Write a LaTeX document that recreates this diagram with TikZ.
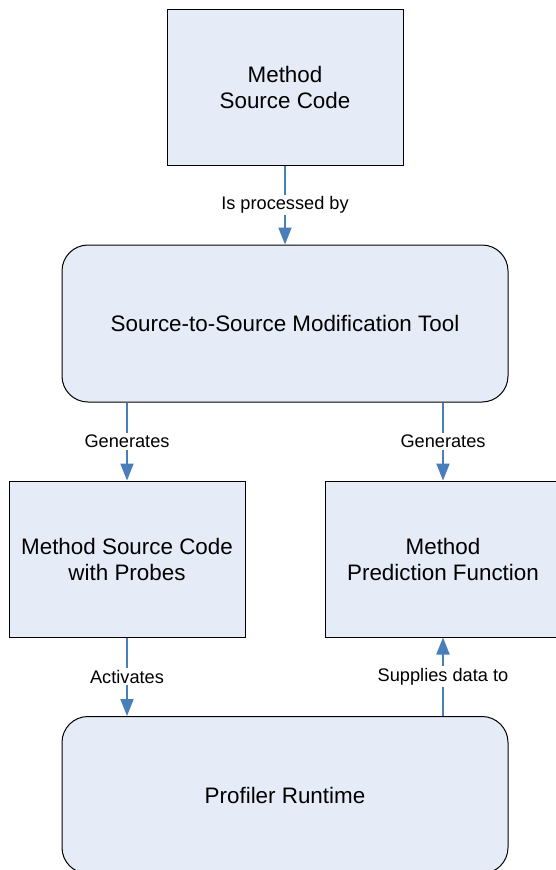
\documentclass[tikz,border=0pt]{standalone}
\usepackage{fontspec}
\setmainfont{Liberation Sans}
\usetikzlibrary{arrows.meta}

\definecolor{boxfill}{HTML}{E6ECF7}
\definecolor{flowblue}{HTML}{4A7EBB}

\tikzset{
  block/.style={draw=black, line width=1pt, fill=boxfill, align=center,
    minimum width=236pt, minimum height=156pt, inner sep=0pt,
    font=\fontsize{22.4}{26}\selectfont},
  roundblock/.style={block, rounded corners=26pt, minimum width=446pt, minimum height=157pt},
  flow/.style={draw=flowblue, line width=2pt, -{Triangle[width=13pt,length=17pt]}, fill=flowblue},
  flowlabel/.style={fill=white, inner sep=2pt, text=black, font=\fontsize{18.2}{22}\selectfont}
}

\begin{document}
\begin{tikzpicture}[x=1pt, y=-1pt]

    % --- Page frame ---
    \useasboundingbox (0,0) rectangle (556,870);
    \clip (0,0) rectangle (556,870);

    % --- Boxes ---
    % Top box: the original method
    \node[block] (src) at (285,87) {Method\\Source Code};

    % The modification tool
    \node[roundblock] (tool) at (285,323.5) {Source-to-Source Modification Tool};

    % Two outputs of the tool
    \node[block] (probes) at (127,559) {Method Source Code\\with Probes};
    \node[block] (pred) at (443,559) {Method\\Prediction Function};

    % Runtime at the bottom (runs off the page)
    \node[roundblock] (runtime) at (285,795) {Profiler Runtime};

    % --- Connectors ---
    \draw[flow] (src.south) -- node[flowlabel] {Is processed by} (tool.north);
    \draw[flow] (tool.south -| probes.north) -- node[flowlabel] {Generates} (probes.north);
    \draw[flow] (tool.south -| pred.north) -- node[flowlabel] {Generates} (pred.north);
    \draw[flow] (probes.south) -- node[flowlabel] {Activates} (probes.south |- runtime.north);
    \draw[flow] (pred.south |- runtime.north) -- node[flowlabel] {Supplies data to} (pred.south);

\end{tikzpicture}
\end{document}
